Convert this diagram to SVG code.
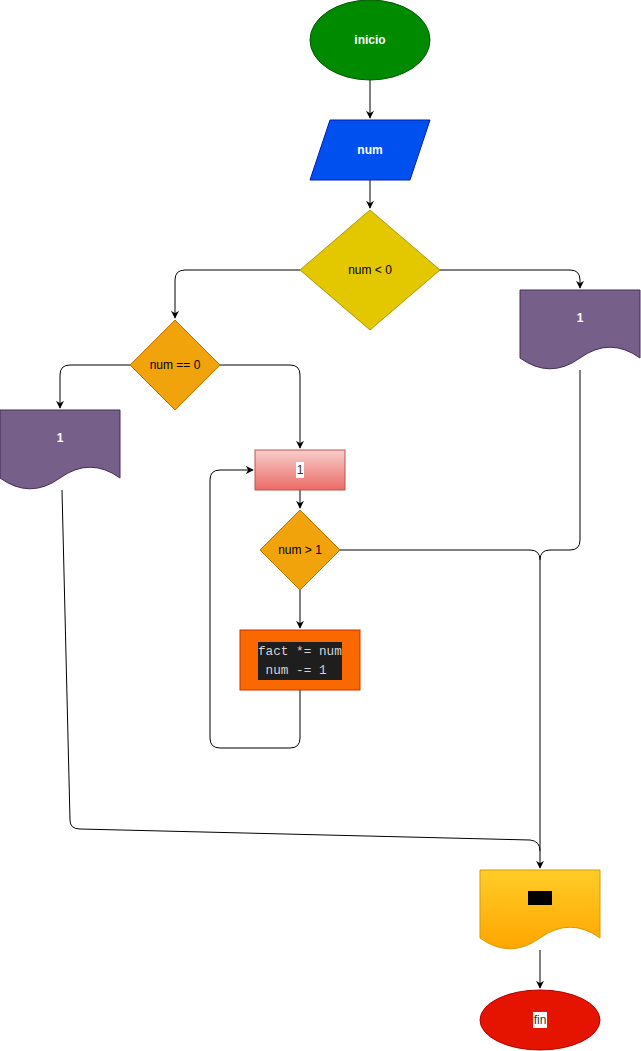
<svg xmlns="http://www.w3.org/2000/svg" width="641" height="1051" viewBox="0 0 641 1051">
<style>
.lbl{font-family:"Liberation Sans",Arial,sans-serif;font-size:12px;text-anchor:middle;dominant-baseline:central}
.w{fill:#ffffff;font-weight:bold}
.k{fill:#000000}
.edge{fill:none;stroke:#000000;stroke-width:1}
.code{font-family:"Liberation Mono","DejaVu Sans Mono",monospace;font-size:12.7px;fill:#d4d4d4;white-space:pre}
</style>
<defs>
<marker id="arr" viewBox="0 0 10 10" refX="9" refY="5" markerWidth="8" markerHeight="8" markerUnits="userSpaceOnUse" orient="auto">
<path d="M0,0 L10,5 L0,10 L3,5 Z" fill="#000000"/>
</marker>
<linearGradient id="gPink" x1="0" y1="0" x2="0" y2="1"><stop offset="0" stop-color="#f8cecc"/><stop offset="1" stop-color="#ea6b66"/></linearGradient>
<linearGradient id="gYel" x1="0" y1="0" x2="0" y2="1"><stop offset="0" stop-color="#ffcd28"/><stop offset="1" stop-color="#ffa500"/></linearGradient>
</defs>
<g id="connectors">
<path class="edge" d="M370,80 L370,118" marker-end="url(#arr)"/>
<path class="edge" d="M370,180 L370,208" marker-end="url(#arr)"/>
<path class="edge" d="M300,270 L185,270 Q175,270 175,280 L175,318" marker-end="url(#arr)"/>
<path class="edge" d="M440,270 L570,270 Q580,270 580,280 L580,288" marker-end="url(#arr)"/>
<path class="edge" d="M130,365 L70,365 Q60,365 60,375 L60,408" marker-end="url(#arr)"/>
<path class="edge" d="M220,365 L290,365 Q300,365 300,375 L300,448" marker-end="url(#arr)"/>
<path class="edge" d="M300,490 L300,508" marker-end="url(#arr)"/>
<path class="edge" d="M300,590 L300,628" marker-end="url(#arr)"/>
<path class="edge" d="M300,690 L300,738 Q300,748 290,748 L220,748 Q210,748 210,738 L210,480 Q210,470 220,470 L253,470" marker-end="url(#arr)"/>
<path class="edge" d="M340,550 L530,550 Q540,550 540,560 L540,868" marker-end="url(#arr)"/>
<path class="edge" d="M580,370 L580,540 Q580,550 570,550 L550,550 Q540,550 540,560"/>
<path class="edge" d="M62,490 L70,820 Q70,829 80,829 L530,840 Q540,841 540,851"/>
<path class="edge" d="M540,950 L540,988" marker-end="url(#arr)"/>
</g>
<g id="inicio">
<ellipse cx="370" cy="40" rx="60" ry="40" fill="#008a00" stroke="#005700"/>
<text class="lbl w" x="370" y="40">inicio</text>
</g>
<g id="input-num">
<polygon points="330,120 430,120 410,180 310,180" fill="#0050ef" stroke="#001dbc"/>
<text class="lbl w" x="370" y="150">num</text>
</g>
<g id="dec-neg">
<polygon points="370,210 440,270 370,330 300,270" fill="#e3c800" stroke="#b09500"/>
<text class="lbl k" x="370" y="270">num &lt; 0</text>
</g>
<g id="doc-right">
<path d="M520,290 L640,290 L640,358 Q610,336.4 580,358 Q550,379.6 520,358 Z" fill="#76608a" stroke="#432d57"/>
<text class="lbl w" x="580" y="318">1</text>
</g>
<g id="dec-zero">
<polygon points="175,320 220,365 175,410 130,365" fill="#f0a30a" stroke="#bd7000"/>
<text class="lbl k" x="175" y="365">num == 0</text>
</g>
<g id="doc-left">
<path d="M0,410 L120,410 L120,478 Q90,456.4 60,478 Q30,499.6 0,478 Z" fill="#76608a" stroke="#432d57"/>
<text class="lbl w" x="60" y="438">1</text>
</g>
<g id="init">
<rect x="255" y="450" width="90" height="40" fill="url(#gPink)" stroke="#b85450"/>
<rect x="296" y="462" width="8" height="16" fill="#ffffff"/>
<text class="lbl" x="300" y="470" fill="#333333">1</text>
</g>
<g id="dec-gt">
<polygon points="300,510 340,550 300,590 260,550" fill="#f0a30a" stroke="#bd7000"/>
<text class="lbl k" x="300" y="550">num &gt; 1</text>
</g>
<g id="loop-body">
<rect x="240" y="630" width="120" height="60" fill="#fa6800" stroke="#c73500"/>
<rect x="258" y="642" width="84" height="38" fill="#1e1e1e"/>
<text class="code" x="258" y="655">fact *= num</text>
<text class="code" x="258" y="674"> num -= 1</text>
</g>
<g id="output">
<path d="M480,870 L600,870 L600,938 Q570,916.4 540,938 Q510,959.6 480,938 Z" fill="url(#gYel)" stroke="#d79b00"/>
<rect x="528" y="891" width="24" height="14" fill="#000000"/>
</g>
<g id="fin">
<ellipse cx="540" cy="1020" rx="60" ry="30" fill="#e51400" stroke="#b20000"/>
<rect x="533" y="1012" width="14" height="16" fill="#ffffff"/>
<text class="lbl" x="540" y="1020" fill="#333333">fin</text>
</g>
</svg>
